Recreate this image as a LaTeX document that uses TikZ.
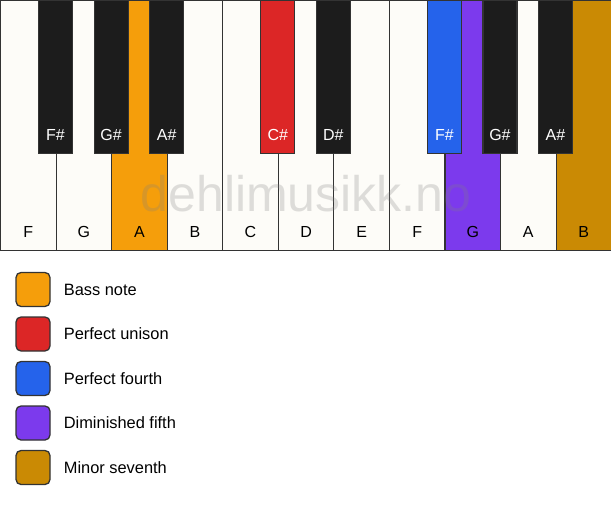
\documentclass[tikz,border=0pt]{standalone}
\usepackage{fontspec}
\setmainfont{Liberation Sans}
\usetikzlibrary{positioning}

\definecolor{keyline}{HTML}{333333}
\definecolor{keywhite}{HTML}{FDFCF8}
\definecolor{keyblack}{HTML}{1C1C1C}
\definecolor{bassnote}{HTML}{F59E0B}
\definecolor{unison}{HTML}{DC2626}
\definecolor{fourth}{HTML}{2563EB}
\definecolor{dimfifth}{HTML}{7C3AED}
\definecolor{minseventh}{HTML}{CA8A04}

\tikzset{
  whitekey/.style={draw=keyline, line width=1.1pt, minimum width=55.55pt, minimum height=250pt, inner sep=0pt, anchor=north west},
  blackkey/.style={draw=keyline, line width=1.1pt, minimum width=34pt, minimum height=153pt, inner sep=0pt, anchor=north},
  keytext/.style={font=\fontsize{16}{19}\selectfont, anchor=base},
  swatch/.style={draw=keyline, line width=1.3pt, rounded corners=5pt, minimum size=34pt, inner sep=0pt},
  legendtext/.style={font=\fontsize{16.4}{19}\selectfont, anchor=west, inner sep=0pt}
}

\begin{document}
\begin{tikzpicture}[x=1pt, y=-1pt]
  \useasboundingbox (0,0) rectangle (611,506);

  % white keys
  \foreach \note/\col [count=\i from 0] in {F/keywhite, G/keywhite, A/bassnote, B/keywhite, C/keywhite, D/keywhite, E/keywhite, F/keywhite, G/dimfifth, A/keywhite, B/minseventh} {
    \node[whitekey, fill=\col] (w\i) at (\i*55.55, 0) {};
    \node[keytext] at ([yshift=14pt] w\i.south) {\note};
  }

  % watermark
  \node[anchor=base, font=\fontsize{50}{60}\selectfont, text=gray, opacity=0.25] (mark) at (306, 211) {dehlimusikk.no};

  % black keys
  \foreach \note/\col/\k [count=\j] in {F\#/keyblack/1, G\#/keyblack/2, A\#/keyblack/3, C\#/unison/5, D\#/keyblack/6, F\#/fourth/8, G\#/keyblack/9, A\#/keyblack/10} {
    \node[blackkey, fill=\col] (b\j) at (w\k.north west) {};
    \node[keytext, text=white] at ([yshift=14pt] b\j.south) {\note};
  }

  % legend
  \node[swatch, fill=bassnote] (s1) at (33, 289.5) {};
  \node[swatch, fill=unison, below=9.2pt of s1] (s2) {};
  \node[swatch, fill=fourth, below=9.2pt of s2] (s3) {};
  \node[swatch, fill=dimfifth, below=9.2pt of s3] (s4) {};
  \node[swatch, fill=minseventh, below=9.2pt of s4] (s5) {};

  \node[legendtext, right=13pt of s1] (t1) {Bass note};
  \node[legendtext, right=13pt of s2] (t2) {Perfect unison};
  \node[legendtext, right=13pt of s3] (t3) {Perfect fourth};
  \node[legendtext, right=13pt of s4] (t4) {Diminished fifth};
  \node[legendtext, right=13pt of s5] (t5) {Minor seventh};
\end{tikzpicture}
\end{document}
